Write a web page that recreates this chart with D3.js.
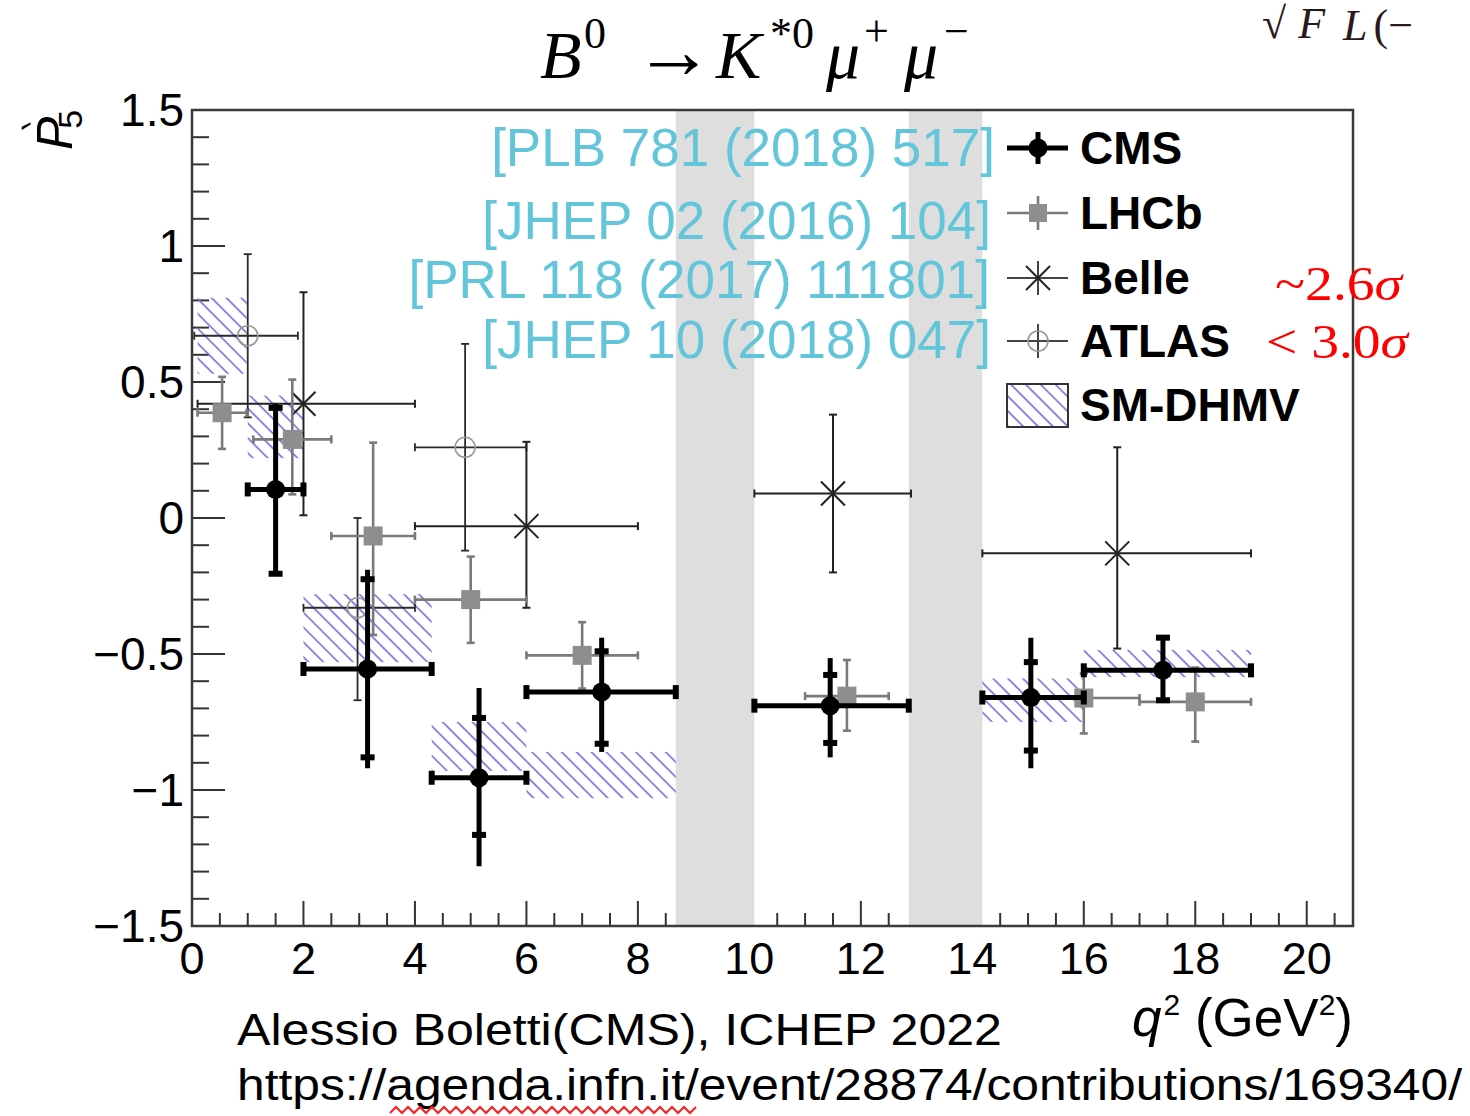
<!DOCTYPE html>
<html><head><meta charset="utf-8">
<script src="https://cdn.jsdelivr.net/npm/d3@7"></script>
<style>body{margin:0;background:#fff;overflow:hidden}</style>
</head><body>
<svg id="c" width="1470" height="1116"></svg>
<script>
// ---- CMS, PLB 781 (2018) 517 ----
const cmsLo   = [1.0, 2.0, 4.3, 6.0, 10.09, 14.18, 16.0];
const cmsHi   = [2.0, 4.3, 6.0, 8.68, 12.86, 16.0, 19.0];
const cmsX    = [1.5, 3.15, 5.15, 7.35, 11.45, 15.05, 17.42];
const cmsY    = [0.105, -0.555, -0.955, -0.64, -0.69, -0.66, -0.56];
const cmsTotUp = [0.315, 0.365, 0.33, 0.20, 0.175, 0.22, 0.13];
const cmsTotDn = [0.315, 0.365, 0.325, 0.22, 0.19, 0.26, 0.12];
const cmsStatUp = [0.30, 0.33, 0.22, 0.15, 0.113, 0.13, 0.12];
const cmsStatDn = [0.31, 0.325, 0.21, 0.19, 0.137, 0.195, 0.11];

// ---- LHCb, JHEP 02 (2016) 104 ----
const lhcbLo = [0.1, 1.1, 2.5, 4.0, 6.0, 11.0, 15.0, 17.0];
const lhcbHi = [0.98, 2.5, 4.0, 6.0, 8.0, 12.5, 17.0, 19.0];
const lhcbX  = [0.54, 1.8, 3.25, 5.0, 7.0, 11.75, 16.0, 18.0];
const lhcbY  = [0.387, 0.289, -0.066, -0.300, -0.505, -0.655, -0.662, -0.676];
const lhcbUp = [0.132, 0.220, 0.343, 0.158, 0.122, 0.133, 0.09, 0.126];
const lhcbDn = [0.133, 0.202, 0.364, 0.159, 0.122, 0.127, 0.13, 0.146];

// ---- Belle, PRL 118 (2017) 111801 ----
const belleLo = [0.1, 4.0, 10.09, 14.18];
const belleHi = [4.0, 8.0, 12.9, 19.0];
const belleX  = [2.0, 6.0, 11.5, 16.6];
const belleY  = [0.42, -0.03, 0.09, -0.13];
const belleUp = [0.41, 0.31, 0.29, 0.39];
const belleDn = [0.41, 0.30, 0.29, 0.35];

// ---- ATLAS, JHEP 10 (2018) 047 ----
const atlasLo = [0.04, 2.0, 4.0];
const atlasHi = [1.9, 4.0, 6.0];
const atlasX  = [1.0, 2.97, 4.9];
const atlasY  = [0.67, -0.33, 0.26];
const atlasUp = [0.30, 0.33, 0.38];
const atlasDn = [0.30, 0.34, 0.38];

// ---- SM prediction (DHMV) bands ----
const smLo  = [0.1, 1.0, 2.0, 4.3, 6.0, 14.18, 16.0];
const smHi  = [0.98, 2.0, 4.3, 6.0, 8.68, 16.0, 19.0];
const smMin = [0.53, 0.22, -0.53, -0.93, -1.03, -0.75, -0.585];
const smMax = [0.81, 0.45, -0.28, -0.75, -0.86, -0.59, -0.485];

// charmonium veto regions
const vetoLo = [8.68, 12.86];
const vetoHi = [10.09, 14.18];

const xTickVals = [0, 2, 4, 6, 8, 10, 12, 14, 16, 18, 20];
const yTickVals = [1.5, 1, 0.5, 0, -0.5, -1, -1.5];
const yTickText = ["1.5", "1", "0.5", "0", "\u22120.5", "\u22121", "\u22121.5"];

const legendNames = ["CMS", "LHCb", "Belle", "ATLAS", "SM-DHMV"];
const refNames = ["[PLB 781 (2018) 517]", "[JHEP 02 (2016) 104]",
                  "[PRL 118 (2017) 111801]", "[JHEP 10 (2018) 047]"];

const L = 192, R = 1353, T = 110, B = 926;
const x = d3.scaleLinear().domain([0, 20.83]).range([L, R]);
const y = d3.scaleLinear().domain([-1.5, 1.5]).range([B, T]);

const svg = d3.select("#c");
const sans = "'Liberation Sans', Arial, Helvetica, sans-serif";
const serif = "'Liberation Serif', 'Times New Roman', serif";

// hatch pattern for SM band
const defs = svg.append("defs");
defs.append("pattern").attr("id", "hatch").attr("patternUnits", "userSpaceOnUse")
  .attr("width", 10.5).attr("height", 10).attr("patternTransform", "rotate(-45)")
  .append("line").attr("x1", 2).attr("y1", -2).attr("x2", 2).attr("y2", 12)
  .attr("stroke", "#6f6fe0").attr("stroke-width", 1.6);

// axis ticks (ROOT style, inside the frame)
const ax = svg.append("g");
d3.range(-1.5, 1.5001, 0.1).forEach(v => {
  const major = Math.abs(v * 2 - Math.round(v * 2)) < 1e-6;
  ax.append("line").attr("x1", L).attr("x2", L + (major ? 33 : 17))
    .attr("y1", y(v)).attr("y2", y(v)).attr("stroke", "#333").attr("stroke-width", 2);
});
d3.range(0, 20.8, 0.5).forEach(v => {
  const major = Math.abs(v / 2 - Math.round(v / 2)) < 1e-6;
  ax.append("line").attr("x1", x(v)).attr("x2", x(v))
    .attr("y1", B).attr("y2", B - (major ? 25 : 13)).attr("stroke", "#333").attr("stroke-width", 2);
});

// veto bands
svg.append("g").selectAll("rect").data(vetoLo).join("rect")
  .attr("x", (d, i) => x(d)).attr("width", (d, i) => x(vetoHi[i]) - x(d))
  .attr("y", T).attr("height", B - T).attr("fill", "#dedede");

// SM boxes
svg.append("g").selectAll("rect").data(smLo).join("rect")
  .attr("x", (d, i) => x(d)).attr("width", (d, i) => x(smHi[i]) - x(d))
  .attr("y", (d, i) => y(smMax[i])).attr("height", (d, i) => y(smMin[i]) - y(smMax[i]))
  .attr("fill", "url(#hatch)");

// generic thin error-bar cross with small caps
function thinBars(lo, hi, xs, ys, up, dn, color, w) {
  const g = svg.append("g").attr("stroke", color).attr("stroke-width", w).attr("fill", "none");
  xs.forEach((cx, i) => {
    const py = y(ys[i]), px = x(cx);
    g.append("line").attr("x1", x(lo[i])).attr("x2", x(hi[i])).attr("y1", py).attr("y2", py);
    g.append("line").attr("x1", px).attr("x2", px).attr("y1", y(ys[i] + up[i])).attr("y2", y(ys[i] - dn[i]));
    [x(lo[i]), x(hi[i])].forEach(cxx => g.append("line").attr("x1", cxx).attr("x2", cxx).attr("y1", py - 4).attr("y2", py + 4));
    [y(ys[i] + up[i]), y(ys[i] - dn[i])].forEach(cy => g.append("line").attr("x1", px - 4).attr("x2", px + 4).attr("y1", cy).attr("y2", cy));
  });
  return g;
}

// ATLAS: open circles
thinBars(atlasLo, atlasHi, atlasX, atlasY, atlasUp, atlasDn, "#2a2a2a", 1.8);
svg.append("g").selectAll("circle").data(atlasX).join("circle")
  .attr("cx", d => x(d)).attr("cy", (d, i) => y(atlasY[i])).attr("r", 10)
  .attr("fill", "none").attr("stroke", "#9a9a9a").attr("stroke-width", 1.6);

// Belle: star markers
thinBars(belleLo, belleHi, belleX, belleY, belleUp, belleDn, "#222", 2);
const bs = svg.append("g").attr("stroke", "#222").attr("stroke-width", 2);
belleX.forEach((cx, i) => {
  const px = x(cx), py = y(belleY[i]), s = 12;
  bs.append("line").attr("x1", px - s).attr("y1", py - s).attr("x2", px + s).attr("y2", py + s);
  bs.append("line").attr("x1", px - s).attr("y1", py + s).attr("x2", px + s).attr("y2", py - s);
});

// LHCb: grey squares
thinBars(lhcbLo, lhcbHi, lhcbX, lhcbY, lhcbUp, lhcbDn, "#7a7a7a", 2.6);
svg.append("g").selectAll("rect").data(lhcbX).join("rect")
  .attr("x", d => x(d) - 9.5).attr("y", (d, i) => y(lhcbY[i]) - 9.5)
  .attr("width", 19).attr("height", 19).attr("fill", "#8e8e8e");

// CMS: thick bars, stat ticks, filled circles
const cg = svg.append("g").attr("stroke", "#000").attr("stroke-width", 5);
cmsX.forEach((cx, i) => {
  const px = x(cx), py = y(cmsY[i]);
  cg.append("line").attr("x1", x(cmsLo[i])).attr("x2", x(cmsHi[i])).attr("y1", py).attr("y2", py);
  cg.append("line").attr("x1", px).attr("x2", px).attr("y1", y(cmsY[i] + cmsTotUp[i])).attr("y2", y(cmsY[i] - cmsTotDn[i]));
  [x(cmsLo[i]), x(cmsHi[i])].forEach(e => cg.append("rect").attr("x", e - 3).attr("y", py - 7)
    .attr("width", 6).attr("height", 14).attr("stroke", "none").attr("fill", "#000"));
  [y(cmsY[i] + cmsStatUp[i]), y(cmsY[i] - cmsStatDn[i])].forEach(e => cg.append("rect").attr("x", px - 7).attr("y", e - 3)
    .attr("width", 14).attr("height", 6).attr("stroke", "none").attr("fill", "#000"));
  cg.append("circle").attr("cx", px).attr("cy", py).attr("r", 9.5).attr("stroke", "none").attr("fill", "#000");
});

// frame
svg.append("rect").attr("x", L).attr("y", T).attr("width", R - L).attr("height", B - T)
  .attr("fill", "none").attr("stroke", "#3a3a3a").attr("stroke-width", 2.5);

// tick labels
svg.append("g").selectAll("text").data(yTickVals).join("text")
  .attr("x", 184).attr("y", d => y(d) + 16).attr("text-anchor", "end")
  .attr("font-family", sans).attr("font-size", 46).text((d, i) => yTickText[i]);
svg.append("g").selectAll("text").data(xTickVals).join("text")
  .attr("x", d => x(d)).attr("y", 974).attr("text-anchor", "middle")
  .attr("font-family", sans).attr("font-size", 45).text(d => d);

// axis titles
const yt = svg.append("text").attr("transform", "translate(72,150) rotate(-90)")
  .attr("font-family", sans).attr("font-size", 50);
yt.append("tspan").attr("font-style", "italic").text("P");
yt.append("tspan").attr("dx", -12).attr("dy", -26).attr("font-size", 34).text("\u2035");
yt.append("tspan").attr("dx", -8).attr("dy", 36).attr("font-size", 34).text("5");

const xt = svg.append("text").attr("x", R).attr("y", 1036).attr("text-anchor", "end")
  .attr("font-family", sans).attr("font-size", 53);
xt.append("tspan").attr("font-style", "italic").text("q");
xt.append("tspan").attr("dy", -21).attr("dx", 2).attr("font-size", 30).text("2");
xt.append("tspan").attr("dy", 21).text(" (GeV");
xt.append("tspan").attr("dy", -21).attr("font-size", 30).text("2");
xt.append("tspan").attr("dy", 21).text(")");

// title
const tt = svg.append("text").attr("y", 78)
  .attr("font-family", serif).attr("font-size", 68).attr("font-style", "italic");
tt.append("tspan").attr("x", 540).text("B");
tt.append("tspan").attr("x", 584).attr("dy", -30).attr("font-size", 44).attr("font-style", "normal").text("0");
tt.append("tspan").attr("x", 634).attr("dy", 30).attr("font-style", "normal").attr("font-size", 80).text("\u2192");
tt.append("tspan").attr("x", 716).text("K");
tt.append("tspan").attr("x", 770).attr("dy", -30).attr("font-size", 44).attr("font-style", "normal").text("*0");
tt.append("tspan").attr("x", 826).attr("dy", 30).text("\u03bc");
tt.append("tspan").attr("x", 864).attr("dy", -32).attr("font-size", 44).attr("font-style", "normal").text("+");
tt.append("tspan").attr("x", 904).attr("dy", 32).text("\u03bc");
tt.append("tspan").attr("x", 944).attr("dy", -32).attr("font-size", 44).attr("font-style", "normal").text("\u2212");

// partially visible formula at top right
const tr = svg.append("text").attr("x", 1262).attr("y", 38)
  .attr("font-family", serif).attr("font-size", 44).attr("font-style", "italic").attr("fill", "#2a1a1a");
tr.append("tspan").attr("font-style", "normal").text("\u221a");
tr.append("tspan").attr("dx", 12).text("F");
tr.append("tspan").attr("dy", 2).attr("dx", 18).text("L");
tr.append("tspan").attr("dx", 6).attr("font-style", "normal").text("(\u2212");

// reference labels
const refY = [166, 239, 298, 358];
const refX = [995, 991, 990, 991];
svg.append("g").selectAll("text").data(refNames).join("text")
  .attr("x", (d, i) => refX[i]).attr("y", (d, i) => refY[i]).attr("text-anchor", "end")
  .attr("font-family", sans).attr("font-size", 53).attr("fill", "#62c5da").text(d => d);

// legend
const legY = [148, 213, 278, 341, 405];
const lx0 = 1007, lx1 = 1068, lxc = 1038;
const lg = svg.append("g");
lg.append("line").attr("x1", lx0).attr("x2", lx1).attr("y1", legY[0]).attr("y2", legY[0]).attr("stroke", "#000").attr("stroke-width", 5);
lg.append("line").attr("x1", lxc).attr("x2", lxc).attr("y1", legY[0] - 16).attr("y2", legY[0] + 16).attr("stroke", "#000").attr("stroke-width", 5);
lg.append("circle").attr("cx", lxc).attr("cy", legY[0]).attr("r", 9.5).attr("fill", "#000");
lg.append("line").attr("x1", lx0).attr("x2", lx1).attr("y1", legY[1]).attr("y2", legY[1]).attr("stroke", "#7a7a7a").attr("stroke-width", 2.6);
lg.append("line").attr("x1", lxc).attr("x2", lxc).attr("y1", legY[1] - 17).attr("y2", legY[1] + 17).attr("stroke", "#7a7a7a").attr("stroke-width", 2.6);
lg.append("rect").attr("x", lxc - 9).attr("y", legY[1] - 9).attr("width", 18).attr("height", 18).attr("fill", "#8e8e8e");
lg.append("line").attr("x1", lx0).attr("x2", lx1).attr("y1", legY[2]).attr("y2", legY[2]).attr("stroke", "#444").attr("stroke-width", 2);
lg.append("line").attr("x1", lxc).attr("x2", lxc).attr("y1", legY[2] - 17).attr("y2", legY[2] + 17).attr("stroke", "#444").attr("stroke-width", 2);
lg.append("line").attr("x1", lxc - 12).attr("x2", lxc + 12).attr("y1", legY[2] - 12).attr("y2", legY[2] + 12).attr("stroke", "#222").attr("stroke-width", 2);
lg.append("line").attr("x1", lxc - 12).attr("x2", lxc + 12).attr("y1", legY[2] + 12).attr("y2", legY[2] - 12).attr("stroke", "#222").attr("stroke-width", 2);
lg.append("line").attr("x1", lx0).attr("x2", lx1).attr("y1", legY[3]).attr("y2", legY[3]).attr("stroke", "#444").attr("stroke-width", 2);
lg.append("line").attr("x1", lxc).attr("x2", lxc).attr("y1", legY[3] - 17).attr("y2", legY[3] + 17).attr("stroke", "#444").attr("stroke-width", 2);
lg.append("circle").attr("cx", lxc).attr("cy", legY[3]).attr("r", 10).attr("fill", "none").attr("stroke", "#999").attr("stroke-width", 1.6);
lg.append("rect").attr("x", lx0).attr("y", legY[4] - 21).attr("width", lx1 - lx0).attr("height", 43)
  .attr("fill", "url(#hatch)").attr("stroke", "#333").attr("stroke-width", 2);
lg.selectAll("text").data(legendNames).join("text")
  .attr("x", 1080).attr("y", (d, i) => legY[i] + 16).attr("font-family", sans)
  .attr("font-weight", "bold").attr("font-size", 46).attr("fill", "#000").text(d => d);

// significance annotations
svg.append("text").attr("x", 1275).attr("y", 300).attr("font-family", serif).attr("font-size", 48)
  .attr("fill", "#ff0000").attr("textLength", 127).attr("lengthAdjust", "spacingAndGlyphs")
  .html("~2.6<tspan font-style='italic'>\u03c3</tspan>");
svg.append("text").attr("x", 1266).attr("y", 358).attr("font-family", serif).attr("font-size", 48)
  .attr("fill", "#ff0000").attr("textLength", 142).attr("lengthAdjust", "spacingAndGlyphs")
  .html("&lt; 3.0<tspan font-style='italic'>\u03c3</tspan>");

// footer
svg.append("text").attr("x", 237).attr("y", 1045).attr("font-family", sans).attr("font-size", 44)
  .attr("textLength", 765).attr("lengthAdjust", "spacingAndGlyphs").text("Alessio Boletti(CMS), ICHEP 2022");
svg.append("text").attr("x", 237).attr("y", 1100).attr("font-family", sans).attr("font-size", 44)
  .attr("textLength", 1225).attr("lengthAdjust", "spacingAndGlyphs")
  .text("https://agenda.infn.it/event/28874/contributions/169340/");
// spell-check squiggle under the host name
const sq = d3.range(390, 700, 6).map((v, i) => [v, 1110 + (i % 2 ? -3 : 3)]);
svg.append("path").attr("d", d3.line()(sq)).attr("fill", "none").attr("stroke", "#ff2020").attr("stroke-width", 2);
</script>
</body></html>
